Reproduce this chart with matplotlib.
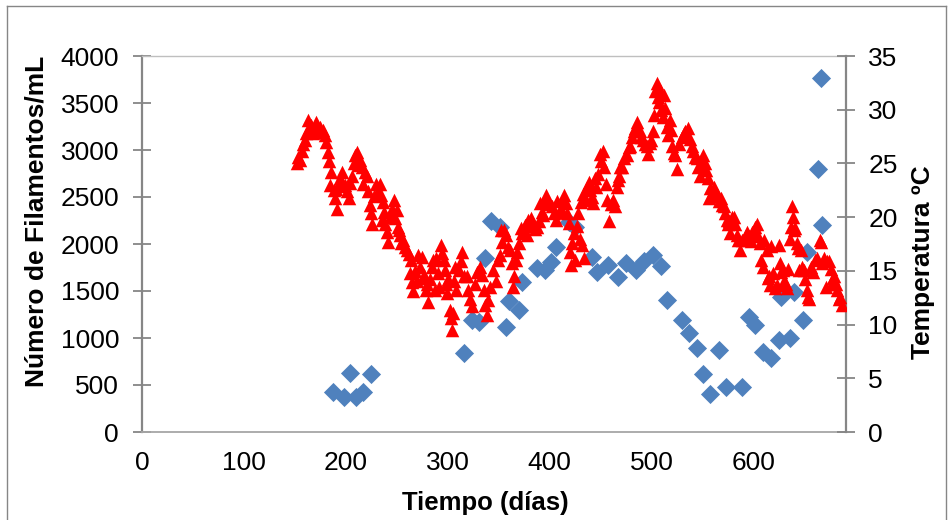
import matplotlib
matplotlib.use("Agg")
import matplotlib.pyplot as plt
from matplotlib.lines import Line2D

# ---------------- data ----------------
fil_days = [187, 198, 204, 210, 217, 225, 316, 324, 331, 337, 343, 351, 357, 360, 370, 373,
            388, 396, 401, 406, 419, 425, 442, 447, 457, 467, 475, 485, 493, 502, 509, 515,
            530, 537, 545, 551, 558, 566, 573, 589, 596, 602, 610, 617, 625, 627, 636, 640,
            649, 653, 664, 666, 667]
fil_counts = [430, 370, 630, 370, 430, 620, 840, 1190, 1165, 1855, 2240, 2185, 1120, 1390, 1300, 1600,
              1740, 1725, 1810, 1970, 2235, 2185, 1865, 1700, 1780, 1645, 1800, 1725, 1820, 1880, 1770, 1405,
              1190, 1050, 890, 615, 405, 870, 480, 480, 1225, 1140, 855, 785, 980, 1440, 995, 1490,
              1190, 1920, 2795, 3765, 2200]

temp_days = [152, 153.5, 155, 157, 158, 160, 161, 163, 164, 166, 168, 170, 171, 173, 175, 176,
             178, 180, 181, 183, 184, 185, 186, 188, 189, 190, 191, 193, 194, 196, 197, 199,
             201, 203, 204, 206, 208, 209, 211, 212, 214, 216, 217, 219, 221, 222, 224, 225,
             226, 228, 230, 232, 234, 235, 236, 237, 238, 239, 240, 241, 243, 245, 247, 248,
             250, 251, 252, 253, 254, 256, 258, 260, 262, 263, 264, 265, 266, 268, 270, 271,
             273, 275, 276, 277, 279, 280, 281, 283, 285, 286, 288, 289, 291, 292, 293, 294,
             296, 297, 298, 299, 300, 302, 303, 304, 305, 306, 307, 308, 311, 313, 314, 316,
             319, 320, 322, 324, 327, 329, 332, 334, 336, 337, 339, 340, 342, 345, 347, 349,
             351, 352, 353, 355, 357, 359, 361, 363, 364, 365, 367, 368, 370, 372, 373, 375,
             376, 378, 379, 381, 382, 384, 386, 388, 390, 391, 393, 394, 396, 397, 399, 402,
             404, 406, 407, 409, 411, 413, 414, 416, 417, 419, 420, 421, 422, 424, 425, 427,
             428, 430, 431, 432, 433, 434, 435, 437, 439, 440, 442, 443, 445, 446, 448, 450,
             451, 452, 453, 455, 456, 458, 460, 462, 464, 466, 467, 468, 469, 471, 473, 476,
             478, 479, 481, 483, 484, 486, 487, 489, 490, 492, 494, 496, 497, 499, 500, 502,
             503, 504, 505, 506, 507, 508, 509, 511, 512, 513, 515, 516, 518, 519, 520, 522,
             523, 525, 527, 530, 532, 533, 535, 536, 538, 540, 541, 543, 545, 546, 548, 550,
             551, 553, 554, 556, 557, 558, 560, 561, 563, 564, 566, 568, 569, 571, 572, 574,
             575, 576, 577, 579, 581, 582, 584, 585, 587, 589, 591, 593, 594, 596, 598, 599,
             600, 602, 604, 605, 607, 608, 610, 611, 613, 614, 615, 616, 617, 619, 621, 623,
             625, 626, 627, 629, 630, 632, 633, 634, 636, 637, 638, 639, 640, 641, 643, 644,
             645, 647, 648, 650, 651, 653, 654, 655, 657, 659, 661, 663, 665, 666, 667, 669,
             671, 672, 674, 676, 677, 678, 679, 681, 682, 684, 685, 687]
temp_values = [25.0, 25.6, 25.3, 26.2, 26.8, 27.2, 27.8, 29.0, 28.3, 28.6, 27.8, 28.4, 28.9, 28.2, 28.4, 27.9,
               28.1, 27.6, 27.0, 26.1, 25.2, 23.0, 24.2, 22.5, 21.8, 22.6, 20.8, 23.0, 23.6, 24.2, 22.9, 23.0,
               22.4, 21.8, 23.2, 23.8, 25.0, 25.8, 26.1, 24.9, 25.3, 24.7, 23.1, 24.2, 23.8, 22.4, 21.1, 20.4,
               19.4, 22.0, 23.1, 22.4, 23.1, 22.1, 19.7, 21.4, 20.5, 19.4, 18.6, 17.7, 20.0, 20.8, 21.6, 19.9,
               20.7, 19.1, 18.8, 18.3, 17.6, 17.9, 17.2, 16.9, 16.6, 14.8, 16.0, 14.0, 13.1, 15.0, 14.1, 16.5,
               15.4, 16.3, 14.3, 14.6, 13.2, 13.8, 12.1, 14.2, 15.4, 16.0, 13.2, 16.2, 14.8, 13.5, 17.4, 16.7,
               16.0, 15.1, 13.8, 12.9, 14.2, 11.4, 10.6, 9.5, 11.1, 14.1, 15.4, 13.2, 15.1, 15.9, 16.8, 14.5,
               14.5, 13.2, 12.4, 11.7, 13.8, 14.9, 15.4, 14.6, 13.2, 11.8, 10.9, 12.3, 13.5, 15.1, 14.1, 16.0,
               16.5, 18.8, 17.7, 18.8, 18.3, 17.2, 16.9, 15.7, 13.5, 14.5, 16.0, 16.8, 17.6, 19.0, 18.5, 18.8,
               19.3, 18.3, 19.7, 19.2, 19.9, 19.5, 18.9, 19.1, 19.6, 21.3, 20.5, 20.2, 21.6, 22.1, 21.2, 21.0,
               20.4, 19.7, 21.5, 20.5, 20.8, 21.7, 22.1, 21.3, 20.4, 19.5, 16.8, 15.5, 17.6, 18.5, 16.0, 19.2,
               20.4, 18.0, 21.4, 17.4, 22.2, 16.2, 21.6, 22.8, 23.3, 22.5, 21.9, 21.3, 23.6, 22.8, 24.0, 25.9,
               25.2, 26.2, 24.7, 23.1, 21.6, 19.6, 21.2, 21.6, 21.0, 22.8, 23.5, 23.8, 24.7, 24.7, 25.5, 25.8,
               26.5, 26.6, 27.5, 28.0, 28.3, 28.9, 28.2, 28.0, 27.5, 27.2, 26.8, 26.6, 25.9, 26.9, 27.2, 28.0,
               29.5, 31.7, 32.5, 31.2, 30.7, 31.8, 30.0, 29.3, 31.4, 30.2, 28.4, 27.6, 29.0, 28.1, 26.6, 26.0,
               25.8, 24.5, 26.8, 27.5, 27.8, 28.0, 27.6, 28.3, 27.3, 26.6, 26.2, 25.6, 25.5, 24.7, 23.8, 24.9,
               25.8, 25.0, 24.4, 23.6, 21.8, 22.7, 22.4, 22.8, 22.0, 22.2, 21.5, 21.8, 21.1, 21.0, 20.4, 19.7,
               19.4, 19.6, 18.5, 20.0, 20.0, 19.4, 18.3, 17.9, 16.9, 17.9, 18.0, 18.3, 18.6, 18.2, 17.8, 18.6,
               18.5, 19.1, 19.4, 18.2, 17.6, 16.0, 15.4, 17.9, 16.9, 14.3, 14.5, 13.7, 17.3, 14.8, 13.4, 13.7,
               17.4, 15.7, 14.9, 15.1, 14.1, 13.8, 13.4, 15.2, 18.0, 19.1, 21.0, 20.0, 18.8, 19.0, 17.6, 17.1,
               15.1, 16.9, 15.4, 15.1, 14.2, 13.2, 12.6, 12.4, 15.4, 14.9, 16.0, 16.2, 17.9, 17.7, 15.7, 16.2,
               13.5, 15.9, 15.9, 15.2, 13.8, 14.3, 14.5, 13.8, 13.2, 12.4, 12.6, 11.8]

x_ticks = [0, 100, 200, 300, 400, 500, 600]
left_ticks = [0, 500, 1000, 1500, 2000, 2500, 3000, 3500, 4000]
right_ticks = [0, 5, 10, 15, 20, 25, 30, 35]

x_label = "Tiempo (días)"
left_label = "Número de Filamentos/mL"
right_label = "Temperatura ºC"

# ---------------- style ----------------
plt.rcParams['font.family'] = ['Liberation Sans', 'DejaVu Sans']
W, H = 948, 520
fig = plt.figure(figsize=(W / 100, H / 100), dpi=100)

L, R, T, B = 142, 846, 56, 432
ax = fig.add_axes([L / W, (H - B) / H, (R - L) / W, (B - T) / H])
ax2 = ax.twinx()

gray = '#868686'
blue = '#4F81BD'
red = '#FF0000'

ax.scatter(fil_days, fil_counts, marker='D', s=95, color=blue, linewidths=0, zorder=3)
ax2.scatter(temp_days, temp_values, marker='^', s=95, color=red, linewidths=0, zorder=3)

ax.set_xlim(0, 691)
ax.set_ylim(0, 4000)
ax2.set_ylim(0, 35)
ax.set_xticks(x_ticks)
ax.set_yticks(left_ticks)
ax2.set_yticks(right_ticks)

for a in (ax, ax2):
    for s in a.spines.values():
        s.set_visible(False)

ax.spines['left'].set_visible(True)
ax.spines['left'].set_color(gray)
ax.spines['left'].set_linewidth(1.6)
ax.spines['bottom'].set_visible(True)
ax.spines['bottom'].set_color('#A6A6A6')
ax.spines['bottom'].set_linewidth(1.3)
ax.spines['top'].set_visible(True)
ax.spines['top'].set_color('#BFBFBF')
ax.spines['top'].set_linewidth(1.0)
ax2.spines['right'].set_visible(True)
ax2.spines['right'].set_color(gray)
ax2.spines['right'].set_linewidth(1.6)

ax.tick_params(axis='x', length=0, labelsize=19, pad=14, colors='black')
ax.tick_params(axis='y', direction='inout', length=13, width=1.3, color=gray,
               labelsize=19, pad=10, labelcolor='black')
ax2.tick_params(axis='y', direction='inout', length=13, width=1.3, color=gray,
                labelsize=19, pad=9.5, labelcolor='black')

ax.set_xlabel(x_label, fontsize=18.5, fontweight='bold')
ax.xaxis.set_label_coords((485.5 - L) / (R - L), -(503 - B) / (B - T), transform=ax.transAxes)
ax.xaxis.label.set_va('center')
ax.set_ylabel(left_label, fontsize=19, fontweight='bold')
ax.yaxis.set_label_coords(-(L - 37) / (R - L), (B - 221) / (B - T), transform=ax.transAxes)
ax.yaxis.label.set_va('center')
ax2.set_ylabel(right_label, fontsize=19, fontweight='bold')
ax2.yaxis.set_label_coords(1 + (923 - R) / (R - L), (B - 262) / (B - T), transform=ax2.transAxes)
ax2.yaxis.label.set_va('center')

# outer chart border
fig.add_artist(Line2D([7 / W, 7 / W], [0, 1 - 6 / H], transform=fig.transFigure, color='#868686', lw=1.0))
fig.add_artist(Line2D([7 / W, 946 / W], [1 - 6 / H, 1 - 6 / H], transform=fig.transFigure, color='#868686', lw=1.0))
fig.add_artist(Line2D([946 / W, 946 / W], [0, 1 - 6 / H], transform=fig.transFigure, color='#868686', lw=1.0))

fig.savefig('out.png', dpi=100)
